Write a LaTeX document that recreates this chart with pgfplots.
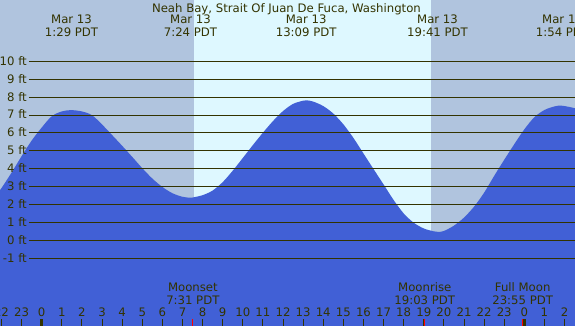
\documentclass[border=0pt]{standalone}
\usepackage{pgfplots}
\pgfplotsset{compat=1.18}
\usepackage{fontspec}
\setmainfont{DejaVu Sans}
\definecolor{night}{RGB}{176,196,222}
\definecolor{day}{RGB}{222,248,255}
\definecolor{water}{RGB}{65,96,214}
\definecolor{ink}{RGB}{51,51,0}
\tikzset{lbl/.style={font=\fontsize{11.7}{13}\selectfont, text=ink, inner sep=0pt}}
\begin{document}
\begin{tikzpicture}[x=1pt,y=1pt]
\useasboundingbox (0,0) rectangle (575,326);
\clip (0,0) rectangle (575,326);
\begin{axis}[at={(0,0)}, anchor=south west, scale only axis,
  width=575pt, height=326pt,
  xmin=-2.074, xmax=26.519, ymin=-4.788, ymax=13.425,
  hide axis, clip=true]
% night / day background
\fill[night] (axis cs:-3,-6) rectangle (axis cs:7.573,15);
\fill[day] (axis cs:7.573,-6) rectangle (axis cs:19.358,15);
\fill[night] (axis cs:19.358,-6) rectangle (axis cs:28,15);
% tide curve (ft vs hour)
\addplot[fill=water, draw=none, smooth, tension=0.5] coordinates {
(-2.5,2.15) (-2.0,2.92) (-1.5,3.78) (-1.0,4.70) (-0.5,5.57) (0,6.3) (0.5,6.93) (1.0,7.2)
(1.48,7.27) (2.0,7.2) (2.5,6.99) (3.0,6.47) (3.5,5.88) (4.0,5.28) (4.5,4.66) (5.0,4.03)
(5.5,3.45) (6.0,2.98) (6.5,2.63) (7.0,2.43) (7.37,2.38) (7.5,2.39) (8.0,2.52) (8.5,2.78)
(9.0,3.25) (9.5,3.89) (10.0,4.6) (10.5,5.32) (11.0,6.01) (11.5,6.66) (12.0,7.22) (12.5,7.62)
(13.0,7.8) (13.18,7.82) (13.5,7.75) (14.0,7.5) (14.5,7.08) (15.0,6.48) (15.5,5.72) (16.0,4.85)
(16.5,3.98) (17.0,3.12) (17.5,2.25) (18.0,1.5) (18.5,0.98) (19.0,0.66) (19.5,0.5) (19.72,0.47)
(20.0,0.52) (20.5,0.82) (21.0,1.27) (21.5,1.88) (22.0,2.66) (22.5,3.6) (23.0,4.5) (23.5,5.37)
(24.0,6.2) (24.5,6.88) (25.0,7.28) (25.5,7.48) (25.86,7.52) (26.5,7.38) (27.0,7.15)
} -- (axis cs:27,-6) -- (axis cs:-2.5,-6) -- cycle;
% gridlines and labels
\pgfplotsinvokeforeach{-1,...,10}{
  \draw[ink, line width=1pt] (axis cs:-0.632,#1) -- (axis cs:28,#1);
  \node[lbl, anchor=base east, yshift=-4pt] at (axis cs:-0.73,#1) {#1 ft};
}
% hour ticks
\pgfplotsinvokeforeach{-2,...,26}{
  \draw[ink, line width=1pt] (axis cs:#1,-4.397) -- (axis cs:#1,-5);
  \node[lbl, anchor=base] at (axis cs:#1,-4.285) {\pgfmathparse{int(mod(#1+24,24))}\pgfmathresult};
}
\draw[ink, line width=3pt] (axis cs:0,-4.397) -- (axis cs:0,-5);
\draw[ink, line width=3pt] (axis cs:24,-4.397) -- (axis cs:24,-5);
\draw[red, line width=1pt] (axis cs:7.517,-4.397) -- (axis cs:7.517,-5);
\draw[red, line width=1pt] (axis cs:19.05,-4.397) -- (axis cs:19.05,-5);
\draw[red, line width=1pt] (axis cs:23.917,-4.397) -- (axis cs:23.917,-5);
% title
\node[lbl, anchor=base] at (axis cs:12.17,12.754) {Neah Bay, Strait Of Juan De Fuca, Washington};
% tide extremes
\node[lbl, anchor=base] at (axis cs:1.483,12.084) {Mar 13};
\node[lbl, anchor=base] at (axis cs:1.483,11.413) {1:29 PDT};
\node[lbl, anchor=base] at (axis cs:7.4,12.084) {Mar 13};
\node[lbl, anchor=base] at (axis cs:7.4,11.413) {7:24 PDT};
\node[lbl, anchor=base] at (axis cs:13.15,12.084) {Mar 13};
\node[lbl, anchor=base] at (axis cs:13.15,11.413) {13:09 PDT};
\node[lbl, anchor=base] at (axis cs:19.683,12.084) {Mar 13};
\node[lbl, anchor=base] at (axis cs:19.683,11.413) {19:41 PDT};
\node[lbl, anchor=base] at (axis cs:25.9,12.084) {Mar 14};
\node[lbl, anchor=base] at (axis cs:25.9,11.413) {1:54 PDT};
% moon events
\node[lbl, anchor=base] at (axis cs:7.517,-2.888) {Moonset};
\node[lbl, anchor=base] at (axis cs:7.517,-3.559) {7:31 PDT};
\node[lbl, anchor=base] at (axis cs:19.05,-2.888) {Moonrise};
\node[lbl, anchor=base] at (axis cs:19.05,-3.559) {19:03 PDT};
\node[lbl, anchor=base] at (axis cs:23.917,-2.888) {Full Moon};
\node[lbl, anchor=base] at (axis cs:23.917,-3.559) {23:55 PDT};
\end{axis}
\end{tikzpicture}
\end{document}
